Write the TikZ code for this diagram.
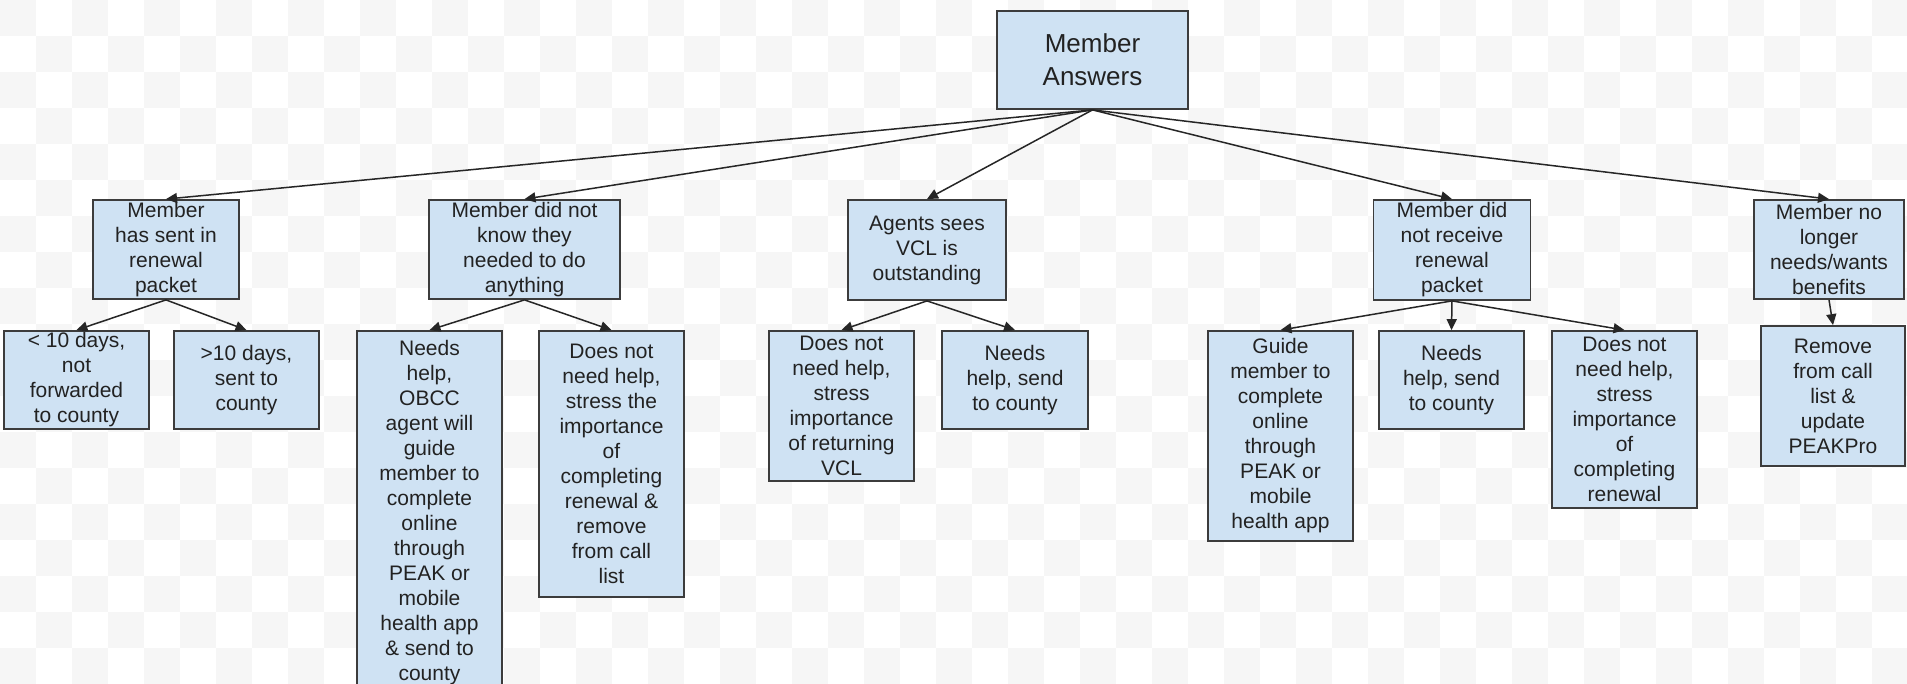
\documentclass[tikz,border=0pt]{standalone}
\usepackage{fontspec}
\setmainfont{Liberation Sans}
\usetikzlibrary{arrows.meta}
\definecolor{boxfill}{HTML}{CFE2F3}
\definecolor{boxline}{HTML}{3C3C3C}
\definecolor{txt}{HTML}{222222}
\definecolor{chk}{HTML}{F6F6F6}
\tikzset{
  box/.style={draw=boxline, line width=1.8pt, fill=boxfill, rectangle, inner sep=0pt,
    align=center, text=txt, font=\fontsize{21}{25}\selectfont},
  rootbox/.style={box, font=\fontsize{26}{33}\selectfont},
  conn/.style={draw=black!85, line width=1.5pt, -{Triangle[length=11pt,width=10pt]}},
}
\begin{document}
\begin{tikzpicture}[x=1pt,y=-1pt]
\useasboundingbox (0,0) rectangle (1907,684);
\fill[white] (0,0) rectangle (1907,684);
\foreach \i in {0,2,...,52} \foreach \j in {0,2,...,18} {
  \fill[chk] ({\i*36},{\j*36}) rectangle ++(36,36);
  \fill[chk] ({(\i+1)*36},{(\j+1)*36}) rectangle ++(36,36);
}
% root
\node[rootbox, minimum width=191pt, minimum height=98pt] (root) at (1092.5,60) {Member\\Answers};
% level 1
\node[box, minimum width=146pt, minimum height=99pt] (a1) at (166,249.5) {Member\\has sent in\\renewal\\packet};
\node[box, minimum width=191pt, minimum height=99pt] (a2) at (524.5,249.5) {Member did not\\know they\\needed to do\\anything};
\node[box, minimum width=158pt, minimum height=100pt] (a3) at (927,250) {Agents sees\\VCL is\\outstanding};
\node[box, minimum width=157pt, minimum height=100pt] (a4) at (1452,250) {Member did\\not receive\\renewal\\packet};
\node[box, minimum width=150pt, minimum height=99pt] (a5) at (1829,249.5) {Member no\\longer\\needs/wants\\benefits};
% level 2
\node[box, minimum width=145pt, minimum height=98pt] (b1) at (76.5,380) {< 10 days,\\not\\forwarded\\to county};
\node[box, minimum width=145pt, minimum height=98pt] (b2) at (246.5,380) {>10 days,\\sent to\\county};
\node[box, minimum width=145pt, minimum height=364pt] (b3) at (429.5,513) {Needs\\help,\\OBCC\\agent will\\guide\\member to\\complete\\online\\through\\PEAK or\\mobile\\health app\\\& send to\\county};
\node[box, minimum width=145pt, minimum height=266pt] (b4) at (611.5,464) {Does not\\need help,\\stress the\\importance\\of\\completing\\renewal \&\\remove\\from call\\list};
\node[box, minimum width=145pt, minimum height=150pt] (b5) at (841.5,406) {Does not\\need help,\\stress\\importance\\of returning\\VCL};
\node[box, minimum width=146pt, minimum height=98pt] (b6) at (1015,380) {Needs\\help, send\\to county};
\node[box, minimum width=145pt, minimum height=210pt] (c1) at (1280.5,436) {Guide\\member to\\complete\\online\\through\\PEAK or\\mobile\\health app};
\node[box, minimum width=145pt, minimum height=98pt] (c2) at (1451.5,380) {Needs\\help, send\\to county};
\node[box, minimum width=145pt, minimum height=177pt] (c3) at (1624.5,419.5) {Does not\\need help,\\stress\\importance\\of\\completing\\renewal};
\node[box, minimum width=144pt, minimum height=140pt] (d1) at (1833,396) {Remove\\from call\\list \&\\update\\PEAKPro};
% connectors
\foreach \t in {a1,a2,a3,a4,a5} \draw[conn] (root.south) -- (\t.north);
\draw[conn] (a1.south) -- (b1.north);
\draw[conn] (a1.south) -- (b2.north);
\draw[conn] (a2.south) -- (b3.north);
\draw[conn] (a2.south) -- (b4.north);
\draw[conn] (a3.south) -- (b5.north);
\draw[conn] (a3.south) -- (b6.north);
\draw[conn] (a4.south) -- (c1.north);
\draw[conn] (a4.south) -- (c2.north);
\draw[conn] (a4.south) -- (c3.north);
\draw[conn] (a5.south) -- (d1.north);
\end{tikzpicture}
\end{document}
